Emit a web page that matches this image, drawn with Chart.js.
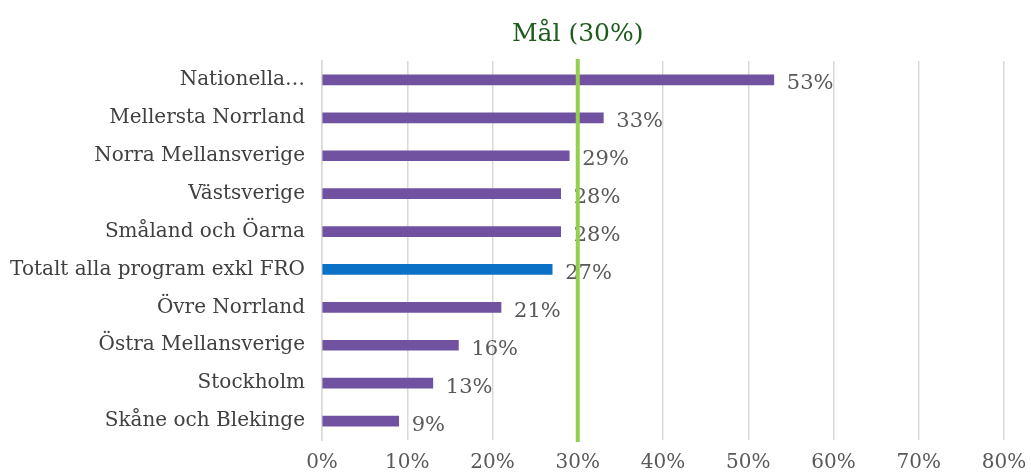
<!DOCTYPE html>
<html>
<head>
<meta charset="utf-8">
<script src="https://cdn.jsdelivr.net/npm/chart.js@4"></script>
<style>
  html, body { margin: 0; padding: 0; background: #fff; }
  #wrap { width: 1031px; height: 474px; }
</style>
</head>
<body>
<div id="wrap"><canvas id="graf"></canvas></div>
<script>
const labels = [
    'Nationella…',
    'Mellersta Norrland',
    'Norra Mellansverige',
    'Västsverige',
    'Småland och Öarna',
    'Totalt alla program exkl FRO',
    'Övre Norrland',
    'Östra Mellansverige',
    'Stockholm',
    'Skåne och Blekinge'
];
const values = [53, 33, 29, 28, 28, 27, 21, 16, 13, 9];
const barColors = ['#7152A0', '#7152A0', '#7152A0', '#7152A0', '#7152A0', '#0A72C6', '#7152A0', '#7152A0', '#7152A0', '#7152A0'];
const goal = 30;
const goalLabel = 'Mål (30%)';
const xTicks = [0, 10, 20, 30, 40, 50, 60, 70, 80];

const fontFam = '"DejaVu Serif", serif';

// vertical goal line + its title, and value labels next to the bars
const extras = {
    id: 'extras',
    afterDatasetsDraw(chart) {
        const c = chart.ctx;
        const meta = chart.getDatasetMeta(0);
        c.save();
        c.font = '21px ' + fontFam;
        c.fillStyle = '#595959';
        c.textAlign = 'left';
        c.textBaseline = 'middle';
        meta.data.forEach((bar, i) => {
            c.fillText(values[i] + '%', bar.x + 13, bar.y + 4);
        });
        const x = chart.scales.x.getPixelForValue(goal);
        const a = chart.chartArea;
        c.strokeStyle = '#92D050';
        c.lineWidth = 4;
        c.beginPath();
        c.moveTo(x, a.top - 2);
        c.lineTo(x, a.bottom + 2);
        c.stroke();
        c.font = '25px ' + fontFam;
        c.fillStyle = '#1D5C1D';
        c.textAlign = 'center';
        c.textBaseline = 'middle';
        c.fillText(goalLabel, x, 34);
        c.restore();
    }
};

new Chart(document.getElementById('graf').getContext('2d'), {
    type: 'bar',
    data: {
        labels: labels,
        datasets: [{
            data: values,
            backgroundColor: barColors,
            barThickness: 10,
            borderSkipped: false
        }]
    },
    options: {
        indexAxis: 'y',
        responsive: true,
        maintainAspectRatio: false,
        animation: false,
        layout: { padding: { top: 61, right: 27, bottom: 0, left: 0 } },
        scales: {
            x: {
                min: 0,
                max: 80,
                afterFit: s => { s.height = 34; s.paddingLeft = 0; s.paddingRight = 0; },
                afterBuildTicks: s => { s.ticks = xTicks.map(v => ({ value: v })); },
                grid: { color: '#D9D9D9', lineWidth: 1.5, drawTicks: false },
                border: { display: false },
                ticks: {
                    padding: 11,
                    color: '#595959',
                    font: { family: fontFam, size: 20 },
                    callback: value => value + '%'
                }
            },
            y: {
                afterFit: s => { s.width = 322; },
                grid: { display: false },
                border: { color: '#D9D9D9', width: 1.5 },
                ticks: {
                    padding: 9,
                    color: '#404040',
                    font: { family: fontFam, size: 20 }
                }
            }
        },
        plugins: {
            legend: { display: false },
            tooltip: { enabled: false }
        }
    },
    plugins: [extras]
});
</script>
</body>
</html>
